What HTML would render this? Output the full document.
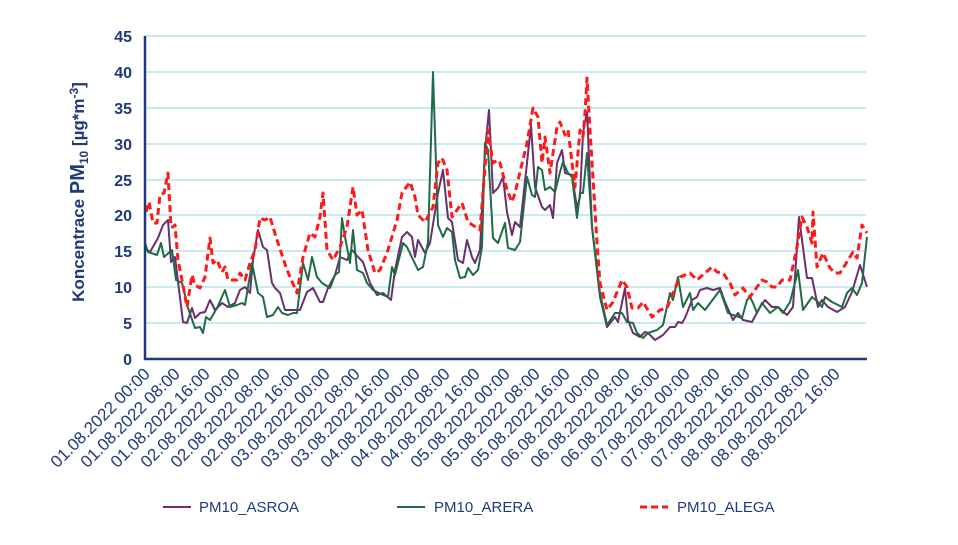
<!DOCTYPE html>
<html><head><meta charset="utf-8"><style>
html,body{margin:0;padding:0;background:#fff;width:958px;height:545px;overflow:hidden;font-family:"Liberation Sans",sans-serif}
</style></head><body>
<svg width="958" height="545" viewBox="0 0 958 545" xmlns="http://www.w3.org/2000/svg" font-family="Liberation Sans, sans-serif">
<g stroke="#b7e3ea" stroke-width="1.5">
<line x1="145" x2="866" y1="36" y2="36"/><line x1="145" x2="866" y1="72" y2="72"/><line x1="145" x2="866" y1="108" y2="108"/><line x1="145" x2="866" y1="144" y2="144"/><line x1="145" x2="866" y1="180" y2="180"/><line x1="145" x2="866" y1="215" y2="215"/><line x1="145" x2="866" y1="251" y2="251"/><line x1="145" x2="866" y1="287" y2="287"/><line x1="145" x2="866" y1="323" y2="323"/>
</g>
<g fill="#1f3a7a" font-weight="bold" font-size="16" text-anchor="end">
<text x="132" y="42">45</text><text x="132" y="78">40</text><text x="132" y="114">35</text><text x="132" y="150">30</text><text x="132" y="186">25</text><text x="132" y="221">20</text><text x="132" y="257">15</text><text x="132" y="293">10</text><text x="132" y="329">5</text><text x="132" y="365">0</text>
</g>
<text transform="translate(84,192) rotate(-90)" text-anchor="middle" fill="#1f3a7a" font-weight="bold" font-size="17">Koncentrace <tspan font-size="20">PM</tspan><tspan font-size="12" dy="4">10</tspan><tspan dy="-4"> [µg*m</tspan><tspan font-size="12" dy="-6">-3</tspan><tspan dy="6">]</tspan></text>
<polyline fill="none" stroke="#6b2f6e" stroke-width="2" stroke-linejoin="round" points="145,248 150,252 158,238 163,225 168,220 171,262 175,257 183,322 187,323 192,308 195,318 200,313 205,312 210,300 215,310 222,303 228,307 235,303 240,290 245,287 250,293 253,260 258,230 263,247 267,250 272,283 275,288 280,293 285,310 288,310 300,310 307,292 313,288 320,302 323,302 328,288 335,275 340,257 347,260 352,250 358,257 363,262 370,283 377,295 383,293 391,300 395,270 402,237 407,232 412,237 415,257 418,240 425,253 430,243 438,193 443,170 448,218 452,222 458,260 463,263 467,240 472,257 475,263 480,250 485,150 489,110 493,193 498,188 503,177 507,212 512,235 515,222 520,227 527,163 531,125 535,187 542,207 545,210 550,205 553,218 557,163 562,150 565,173 572,175 577,208 580,197 583,133 587,112 592,227 600,297 607,327 615,317 618,322 625,288 628,320 633,333 640,337 645,332 648,333 655,340 663,335 670,327 675,327 678,322 682,323 685,318 692,300 697,297 700,290 707,288 713,290 720,288 725,302 733,320 738,313 743,320 752,322 760,307 765,300 772,307 778,307 787,315 793,307 799,217 807,278 812,278 818,307 822,300 828,307 837,312 845,307 852,292 860,265 867,287"/>
<polyline fill="none" stroke="#1f6b45" stroke-width="2" stroke-linejoin="round" points="145,243 148,252 157,255 161,243 164,257 172,250 176,280 182,283 188,308 195,328 200,327 203,333 206,317 210,320 217,308 225,290 230,307 237,305 242,303 245,305 252,263 258,293 263,297 267,317 273,315 278,307 282,313 288,315 293,313 297,313 303,263 308,280 312,257 317,277 322,283 330,288 335,275 339,272 342,218 345,237 350,263 353,230 357,270 363,273 367,283 373,290 383,295 388,297 392,267 395,275 403,243 407,247 418,270 423,267 428,242 433,72 438,225 443,237 447,228 452,232 455,260 460,278 465,277 468,268 473,275 478,270 482,247 485,143 488,150 493,238 498,243 505,223 508,248 515,250 520,242 527,177 532,195 535,197 538,167 542,170 545,190 550,187 555,192 560,172 563,162 568,173 572,177 577,218 580,193 583,193 587,153 592,227 600,293 607,325 615,313 622,313 627,322 633,323 637,333 643,338 648,333 657,330 663,325 670,293 673,300 678,277 683,307 690,293 693,310 698,303 705,310 720,290 728,313 733,315 742,318 747,300 750,297 753,303 757,313 762,303 770,313 778,307 783,313 790,302 797,275 798,270 803,310 812,297 818,302 822,307 825,297 832,302 842,307 847,293 852,288 857,295 862,283 867,237"/>
<polyline fill="none" stroke="#ff1a1a" stroke-width="3" stroke-dasharray="7,4" stroke-linejoin="round" points="146,212 149,202 153,223 157,223 160,195 164,193 168,173 171,227 173,227 175,225 178,260 182,280 187,307 192,275 195,285 200,288 205,277 210,238 213,263 217,260 222,272 225,267 228,280 237,280 240,273 245,280 250,263 255,250 260,218 265,220 270,217 277,240 287,270 297,293 303,257 310,233 315,237 320,217 323,193 327,250 333,260 340,247 347,227 353,187 357,215 362,210 368,250 375,273 380,270 387,253 397,220 402,193 410,182 415,197 418,215 425,222 433,207 438,163 442,158 447,170 452,217 462,203 468,222 480,230 488,130 493,163 498,160 500,163 507,190 512,202 515,193 527,143 533,108 538,117 542,163 545,137 550,173 557,127 560,122 565,135 568,130 575,187 580,130 583,137 585,113 587,78 590,130 597,243 600,283 607,310 613,302 622,280 627,287 632,308 638,308 643,302 652,317 660,310 667,308 673,293 680,277 690,273 697,280 712,267 717,272 723,273 730,283 735,295 743,288 750,297 762,280 767,282 772,287 777,287 782,280 790,280 797,247 802,217 807,227 812,243 813,212 817,267 823,253 830,268 835,273 840,273 853,252 857,258 862,225 867,233"/>
<g stroke="#1f3a7a" stroke-width="2.5"><line x1="145" y1="36" x2="145" y2="360"/><line x1="144" y1="359" x2="867" y2="359"/></g>
<g fill="#1f3a7a" font-size="17" text-anchor="end">
<text transform="translate(151,375) rotate(-45)">01.08.2022 00:00</text>
<text transform="translate(181,375) rotate(-45)">01.08.2022 08:00</text>
<text transform="translate(211,375) rotate(-45)">01.08.2022 16:00</text>
<text transform="translate(241,375) rotate(-45)">02.08.2022 00:00</text>
<text transform="translate(271,375) rotate(-45)">02.08.2022 08:00</text>
<text transform="translate(301,375) rotate(-45)">02.08.2022 16:00</text>
<text transform="translate(331,375) rotate(-45)">03.08.2022 00:00</text>
<text transform="translate(361,375) rotate(-45)">03.08.2022 08:00</text>
<text transform="translate(391,375) rotate(-45)">03.08.2022 16:00</text>
<text transform="translate(421,375) rotate(-45)">04.08.2022 00:00</text>
<text transform="translate(451,375) rotate(-45)">04.08.2022 08:00</text>
<text transform="translate(481,375) rotate(-45)">04.08.2022 16:00</text>
<text transform="translate(511,375) rotate(-45)">05.08.2022 00:00</text>
<text transform="translate(541,375) rotate(-45)">05.08.2022 08:00</text>
<text transform="translate(571,375) rotate(-45)">05.08.2022 16:00</text>
<text transform="translate(601,375) rotate(-45)">06.08.2022 00:00</text>
<text transform="translate(631,375) rotate(-45)">06.08.2022 08:00</text>
<text transform="translate(661,375) rotate(-45)">06.08.2022 16:00</text>
<text transform="translate(691,375) rotate(-45)">07.08.2022 00:00</text>
<text transform="translate(721,375) rotate(-45)">07.08.2022 08:00</text>
<text transform="translate(751,375) rotate(-45)">07.08.2022 16:00</text>
<text transform="translate(781,375) rotate(-45)">08.08.2022 00:00</text>
<text transform="translate(811,375) rotate(-45)">08.08.2022 08:00</text>
<text transform="translate(841,375) rotate(-45)">08.08.2022 16:00</text>
</g>
<line x1="163" x2="191" y1="507" y2="507" stroke="#6b2f6e" stroke-width="2"/>
<text x="199" y="512" fill="#1f3a7a" font-size="15">PM10_ASROA</text>
<line x1="397" x2="425" y1="507" y2="507" stroke="#1f6b45" stroke-width="2"/>
<text x="434" y="512" fill="#1f3a7a" font-size="15">PM10_ARERA</text>
<line x1="640" x2="668" y1="507" y2="507" stroke="#ff1a1a" stroke-width="3" stroke-dasharray="7,4"/>
<text x="677" y="512" fill="#1f3a7a" font-size="15">PM10_ALEGA</text>
</svg>
</body></html>
